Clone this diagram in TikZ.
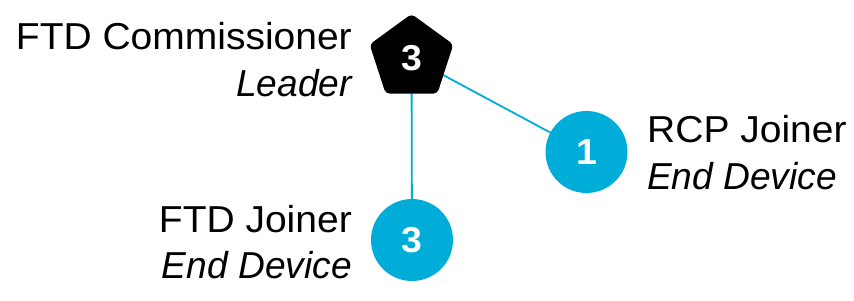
\documentclass[tikz,border=0pt]{standalone}
\usepackage{fontspec}
\setmainfont{Liberation Sans}[UprightFeatures={FakeStretch=1.04},BoldFeatures={FakeStretch=1.04},ItalicFeatures={FakeStretch=0.99}]
\usetikzlibrary{shapes.geometric,backgrounds}
\definecolor{cyanb}{RGB}{0,173,216}
\tikzset{
  lbl/.style={font=\fontsize{37.5}{47}\selectfont, inner sep=0pt, text=black},
  num/.style={font=\fontsize{36}{36}\selectfont\bfseries, text=white, inner sep=0pt},
  dev/.style={circle, fill=cyanb, minimum size=82pt, num},
  lead/.style={regular polygon, regular polygon sides=5, fill=black, rounded corners=4pt, minimum size=88pt, num},
  link/.style={draw=cyanb, line width=1.8pt}
}
\begin{document}
\begin{tikzpicture}[x=1pt,y=-1pt]
\useasboundingbox (0,0) rectangle (854,300);
\node[lead] (L) at (411.5,58) {3};
\node[dev] (R) at (586.5,152) {1};
\node[dev] (F) at (412,240) {3};
\begin{pgfonlayer}{background}
\draw[link] (L.center) -- (R.center);
\draw[link] (L.center) -- (F.center);
\end{pgfonlayer}
\node[lbl, anchor=base east] (t1) at (352,49) {FTD Commissioner};
\node[lbl, anchor=base east] (t2) at (352,96) {\itshape Leader};
\node[lbl, anchor=base west] (t3) at (647,142) {RCP Joiner};
\node[lbl, anchor=base west] (t4) at (647,189) {\itshape End Device};
\node[lbl, anchor=base east] (t5) at (352,232) {FTD Joiner};
\node[lbl, anchor=base east] (t6) at (352,278) {\itshape End Device};
\end{tikzpicture}
\end{document}
